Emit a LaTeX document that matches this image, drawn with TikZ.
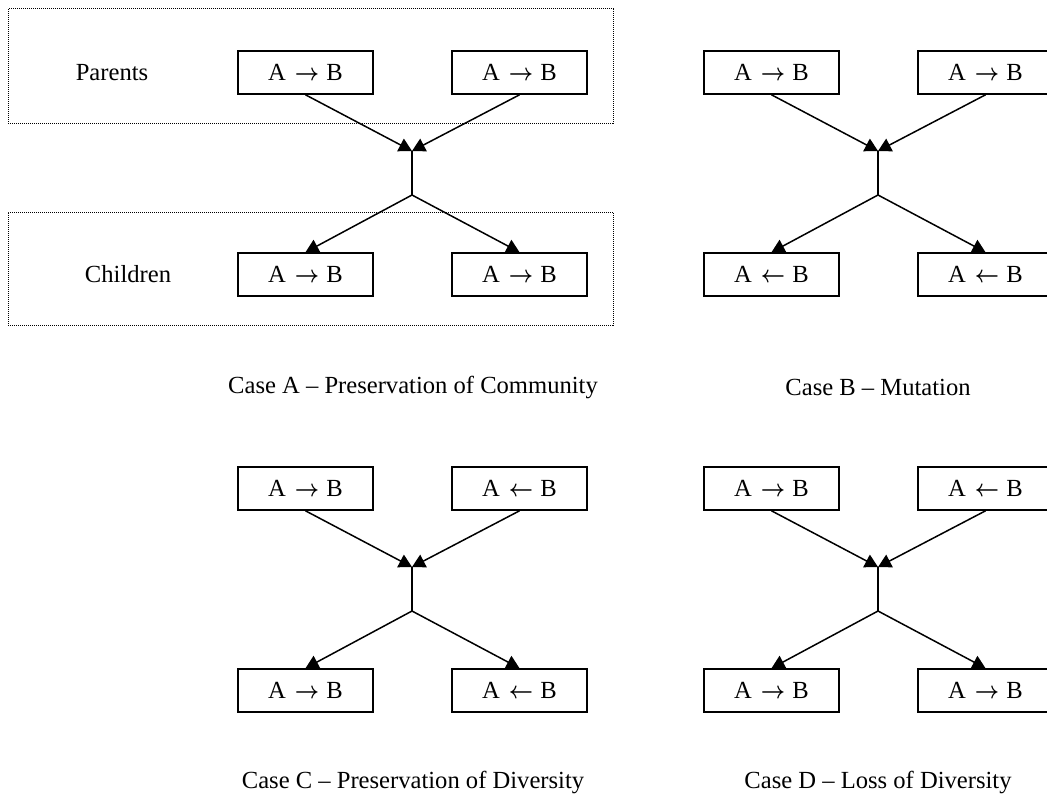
\documentclass[tikz,border=0pt]{standalone}
\usepackage{fontspec}
\usepackage{bm}
\setmainfont{Liberation Serif}
\usetikzlibrary{arrows.meta}

% heavy open-headed arrows between the two gene letters
\newcommand\genefwd{\hspace{0.36em}\scalebox{0.88}[1]{$\bm{\rightarrow}$}\hspace{0.3em}}
\newcommand\genebwd{\hspace{0.36em}\scalebox{0.88}[1]{$\bm{\leftarrow}$}\hspace{0.3em}}

% One crossing: two parent genes meet at a junction and give two children.
% #1 name prefix, #2/#3 shift, #4..#7 gene texts (parents, then children)
\newcommand\breedcase[7]{%
  \begin{scope}[shift={(#2,#3)}]
    \node[gene] (#1p1) at (305.5,72.5) {#4};
    \node[gene] (#1p2) at (519.5,72.5) {#5};
    \coordinate (#1j1) at (412,151);
    \coordinate (#1j2) at (412,195);
    \node[gene] (#1c1) at (305.5,274.5) {#6};
    \node[gene] (#1c2) at (519.5,274.5) {#7};
    \draw[link] (#1p1.south) -- (#1j1);
    \draw[link] (#1p2.south) -- (#1j1);
    \draw[stem] (#1j1) -- (#1j2);
    \draw[link] (#1j2) -- (#1c1.north);
    \draw[link] (#1j2) -- (#1c2.north);
  \end{scope}}

\begin{document}
\begin{tikzpicture}[x=0.5pt,y=-0.5pt,
  gene/.style={draw, line width=0.8pt, minimum width=67.5pt, minimum height=21.5pt,
    inner sep=0pt, font=\fontsize{12.3}{14}\selectfont},
  link/.style={line width=0.75pt, -{Triangle[length=6.5pt,width=7pt]}},
  stem/.style={line width=0.75pt},
  group/.style={draw, line width=0.5pt, dash pattern=on 0.5pt off 0.5pt},
  txt/.style={font=\fontsize{12.3}{14}\selectfont, inner sep=0pt}
]
\clip (0,0) rectangle (1047,797);

% generation frames of case A
\node[group, minimum width=302.5pt, minimum height=57pt, inner sep=0pt] (fpar) at (310.5,66) {};
\node[group, minimum width=302.5pt, minimum height=56.5pt, inner sep=0pt] (fchi) at (310.5,268.5) {};
\node[txt] (lpar) at (112,73) {Parents};
\node[txt] (lchi) at (128,274.5) {Children};

\breedcase{a}{0}{0}{A\genefwd B}{A\genefwd B}{A\genefwd B}{A\genefwd B}
\breedcase{b}{466}{0}{A\genefwd B}{A\genefwd B}{A\genebwd B}{A\genebwd B}
\breedcase{c}{0}{416}{A\genefwd B}{A\genebwd B}{A\genefwd B}{A\genebwd B}
\breedcase{d}{466}{416}{A\genefwd B}{A\genebwd B}{A\genefwd B}{A\genefwd B}

\node[txt] (capa) at (413,387) {Case A – Preservation of Community};
\node[txt] (capb) at (878,387) {Case B – Mutation};
\node[txt] (capc) at (413,782) {Case C – Preservation of Diversity};
\node[txt] (capd) at (878,782) {Case D – Loss of Diversity};
\end{tikzpicture}
\end{document}
